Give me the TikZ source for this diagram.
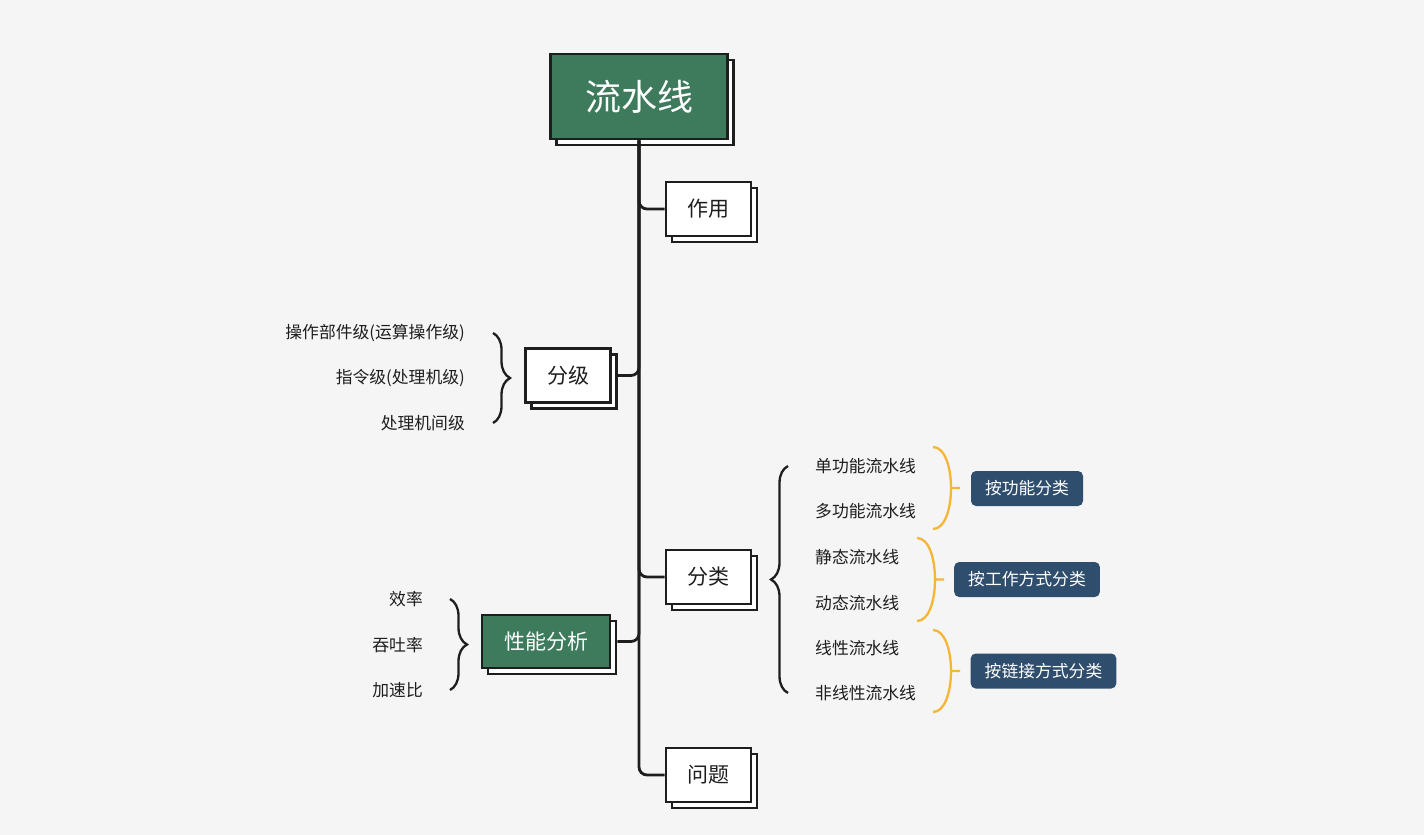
\documentclass[tikz,border=0pt]{standalone}
\usepackage{fontspec}
\newfontfamily\cjk{Noto Sans CJK SC}
\usetikzlibrary{shadows,decorations.pathreplacing}
\definecolor{bgcol}{HTML}{F5F5F5}
\definecolor{rootgreen}{HTML}{3E7B5D}
\definecolor{tagblue}{HTML}{2F4E6E}
\definecolor{braceorange}{HTML}{F5B535}
\definecolor{ink}{HTML}{1E1E1E}

\begin{document}
\begin{tikzpicture}[
    x=1pt, y=-1pt,
    topic/.style={rectangle, draw=ink, line width=2.6pt, fill=white, minimum width=85pt, minimum height=54pt, text=ink, font=\cjk\fontsize{21}{25}\selectfont,
        copy shadow={shadow xshift=6pt, shadow yshift=-6pt, fill=white, draw=ink, line width=2.6pt}},
    greentopic/.style={topic, fill=rootgreen, text=white},
    leaf/.style={inner sep=0pt, text=ink, font=\cjk\fontsize{16.8}{20}\selectfont},
    tag/.style={rectangle, rounded corners=5pt, fill=tagblue, text=white, minimum height=35pt, inner xsep=14pt, font=\cjk\fontsize{16.8}{20}\selectfont},
    conn/.style={draw=ink, line width=2.8pt, rounded corners=8pt},
    blackbrace/.style={decorate, decoration={brace, amplitude=17pt}, draw=ink, line width=2.3pt},
    orangebrace/.style={draw=braceorange, line width=2.3pt}
]
    % Canvas
    \fill[bgcol] (0,0) rectangle (1424,835);
    % Root
    \node[greentopic, minimum width=177pt, minimum height=85pt, font=\cjk\fontsize{36}{40}\selectfont] (root) at (639,96.5) {流水线};
    % Topics
    \node[topic] (zuoyong) at (708.5,209) {作用};
    \node[topic] (fenji) at (568,375.5) {分级};
    \node[greentopic, minimum width=128pt, minimum height=53pt] (xingneng) at (546,641.5) {性能分析};
    \node[topic] (fenlei) at (708.5,577) {分类};
    \node[topic] (wenti) at (708.5,775) {问题};
    % Levels
    \node[leaf, anchor=east] (g1) at (465,333) {操作部件级(运算操作级)};
    \node[leaf, anchor=east] (g2) at (465,378) {指令级(处理机级)};
    \node[leaf, anchor=east] (g3) at (465,423) {处理机间级};
    % Performance
    \node[leaf, anchor=east] (p1) at (423,599) {效率};
    \node[leaf, anchor=east] (p2) at (423,645) {吞吐率};
    \node[leaf, anchor=east] (p3) at (423,690) {加速比};
    % Kinds
    \node[leaf, anchor=west] (c1) at (815,466) {单功能流水线};
    \node[leaf, anchor=west] (c2) at (815,511) {多功能流水线};
    \node[leaf, anchor=west] (c3) at (815,557) {静态流水线};
    \node[leaf, anchor=west] (c4) at (815,603) {动态流水线};
    \node[leaf, anchor=west] (c5) at (815,648) {线性流水线};
    \node[leaf, anchor=west] (c6) at (815,693) {非线性流水线};
    % Tags
    \node[tag] (t1) at (1027,488.5) {按功能分类};
    \node[tag] (t2) at (1027,579.5) {按工作方式分类};
    \node[tag] (t3) at (1043.5,671) {按链接方式分类};
    % Trunk and branches
    \draw[conn] (root.south) |- (wenti.west);
    \draw[conn] (zuoyong.west) -| (root.south);
    \draw[conn] ([xshift=6pt]fenji.east) -| (root.south);
    \draw[conn] ([xshift=6pt]xingneng.east) -| (root.south);
    \draw[conn] (fenlei.west) -| (root.south);
    % Braces
    \draw[blackbrace] ([xshift=28pt]g1.east) -- ([xshift=28pt]g3.east);
    \draw[blackbrace] ([xshift=27pt]p1.east) -- ([xshift=27pt]p3.east);
    \draw[blackbrace] ([xshift=-27pt]c6.west) -- ([xshift=-27pt]c1.west);
    \draw[orangebrace] (933,447) .. controls (957,447) and (957,529) .. (933,529) (951,488) -- (960,488);
    \draw[orangebrace] (917,538) .. controls (941,538) and (941,621) .. (917,621) (935,579.5) -- (944,579.5);
    \draw[orangebrace] (933,630) .. controls (957,630) and (957,712) .. (933,712) (951,671) -- (960,671);
\end{tikzpicture}
\end{document}
